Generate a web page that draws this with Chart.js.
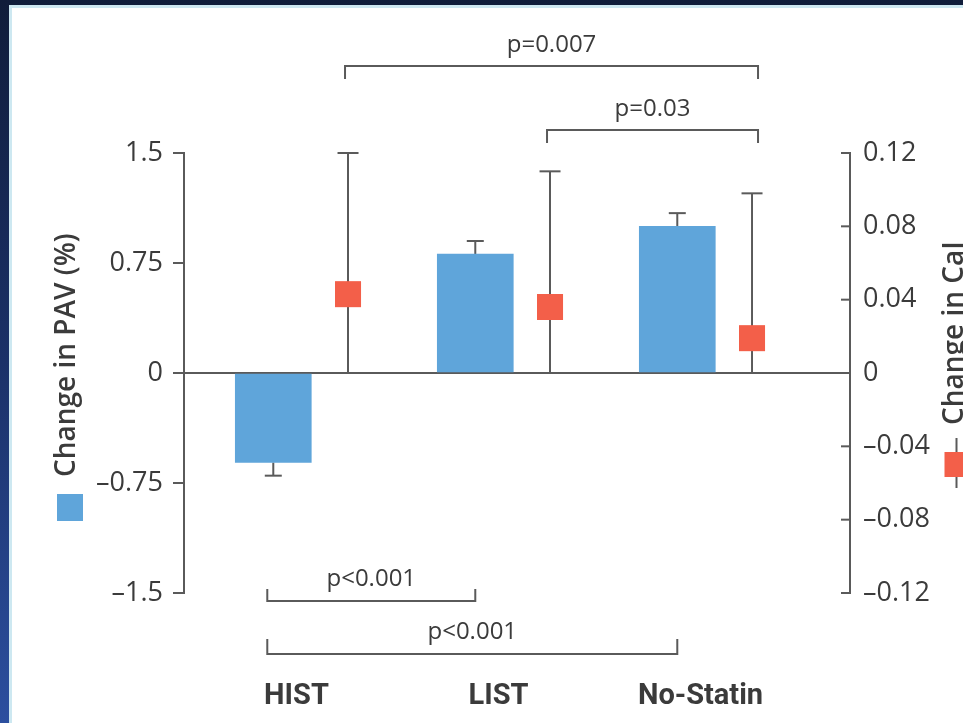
<!DOCTYPE html>
<html><head><meta charset="utf-8">
<script src="https://cdn.jsdelivr.net/npm/chart.js@4.4.1/dist/chart.umd.min.js"></script>
<style>
html,body{margin:0;padding:0;}
body{width:963px;height:723px;overflow:hidden;position:relative;background:linear-gradient(to bottom,#101d3a 0%,#1b3168 50%,#2c4f9f 100%);}
#panel{position:absolute;left:9px;top:5px;width:954px;height:718px;background:#fff;border-left:3px solid #cde8f1;border-top:3px solid #cde8f1;box-sizing:border-box;}
#c{position:absolute;left:0;top:0;}
</style></head>
<body><div id="panel"></div><canvas id="c" width="963" height="723"></canvas>
<script>
// ---- data ----
const categories = ['HIST', 'LIST', 'No-Statin'];
const pavValues = [-0.61, 0.81, 1.0];
const pavSE = [0.09, 0.09, 0.09];
const calValues = [0.043, 0.036, 0.019];
const calUpper = [0.12, 0.11, 0.098];
const pavTicks = [-1.5, -0.75, 0, 0.75, 1.5];
const pavTickLabels = ['\u20131.5', '\u20130.75', '0', '0.75', '1.5'];
const calTicks = [-0.12, -0.08, -0.04, 0, 0.04, 0.08, 0.12];
const calTickLabels = ['\u20130.12', '\u20130.08', '\u20130.04', '0', '0.04', '0.08', '0.12'];
const topBrackets = [{from: 0, to: 2, label: 'p=0.007'}, {from: 1, to: 2, label: 'p=0.03'}];
const bottomBrackets = [{from: 0, to: 1, label: 'p<0.001'}, {from: 0, to: 2, label: 'p<0.001'}];
const pavTitle = 'Change in PAV (%)';
const calTitle = 'Change in CaI';

// ---- styling ----
const BAR_OFF = -0.185, MK_OFF = 0.185, LABEL_OFF = -0.07;
const AXIS = '#5a5a5a', TEXT = '#3b3b3b', BLUE = '#5fa5da', RED = '#f35f49';
Chart.defaults.font.family = "'Open Sans', sans-serif";

const barData = pavValues.map((v, i) => ({x: i + BAR_OFF, y: v}));
const calData = calValues.map((v, i) => ({x: i + MK_OFF, y: v}));

function line(ctx, x1, y1, x2, y2) { ctx.beginPath(); ctx.moveTo(x1, y1); ctx.lineTo(x2, y2); ctx.stroke(); }

const annot = {
  id: 'annot',
  beforeDatasetsDraw(chart) {
    const {ctx, chartArea: ca, scales: {x, y, y2}} = chart;
    ctx.save();
    ctx.strokeStyle = AXIS; ctx.lineWidth = 2;
    const y0 = y.getPixelForValue(0);
    line(ctx, ca.left, y0, ca.right, y0);
    pavValues.forEach((v, i) => {
      const px = x.getPixelForValue(i + BAR_OFF);
      const e = v + Math.sign(v) * pavSE[i];
      const py1 = y.getPixelForValue(v), py2 = y.getPixelForValue(e);
      line(ctx, px, py1, px, py2);
      line(ctx, px - 8.5, py2, px + 8.5, py2);
    });
    calValues.forEach((v, i) => {
      const px = x.getPixelForValue(i + MK_OFF);
      const pb = y2.getPixelForValue(0), pt = y2.getPixelForValue(calUpper[i]);
      line(ctx, px, pb, px, pt);
      line(ctx, px - 10.5, pt, px + 10.5, pt);
    });
    ctx.restore();
  },
  afterDraw(chart) {
    const {ctx, chartArea: ca, scales: {x, y, y2}} = chart;
    ctx.save();
    ctx.strokeStyle = AXIS; ctx.lineWidth = 2;
    calTicks.forEach(v => { const py = y2.getPixelForValue(v); line(ctx, ca.right - 9, py, ca.right, py); });
    ctx.fillStyle = TEXT;
    ctx.textAlign = 'center'; ctx.textBaseline = 'alphabetic';
    ctx.font = "24px 'Open Sans', sans-serif";
    const topY = [ca.top - 87, ca.top - 23];
    topBrackets.forEach((b, k) => {
      const x1 = x.getPixelForValue(b.from + MK_OFF) - 3, x2 = x.getPixelForValue(b.to + MK_OFF) + 6;
      const by = topY[k];
      ctx.beginPath(); ctx.moveTo(x1, by + 13); ctx.lineTo(x1, by); ctx.lineTo(x2, by); ctx.lineTo(x2, by + 13); ctx.stroke();
      ctx.fillText(b.label, (x1 + x2) / 2, by - 14);
    });
    const botY = [ca.bottom + 8, ca.bottom + 61];
    const botTick = [12, 15];
    bottomBrackets.forEach((b, k) => {
      const x1 = x.getPixelForValue(b.from + BAR_OFF) - 6, x2 = x.getPixelForValue(b.to + BAR_OFF);
      const by = botY[k];
      ctx.beginPath(); ctx.moveTo(x1, by - botTick[k]); ctx.lineTo(x1, by); ctx.lineTo(x2, by); ctx.lineTo(x2, by - botTick[k]); ctx.stroke();
      ctx.fillText(b.label, (x1 + x2) / 2, by - 15);
    });
    ctx.font = "bold 29px Roboto, sans-serif";
    categories.forEach((c, i) => ctx.fillText(c, x.getPixelForValue(i + LABEL_OFF), 704));
    ctx.font = "600 28px 'Open Sans', sans-serif";
    ctx.textAlign = 'left';
    ctx.save(); ctx.translate(75, 477); ctx.rotate(-Math.PI / 2); ctx.fillText(pavTitle, 0, 0); ctx.restore();
    ctx.save(); ctx.translate(963, 425); ctx.rotate(-Math.PI / 2); ctx.fillText(calTitle, 0, 0); ctx.restore();
    ctx.fillStyle = BLUE; ctx.fillRect(57, 494, 26, 27);
    line(ctx, 956.5, 438, 956.5, 488);
    ctx.fillStyle = RED; ctx.fillRect(944.5, 452, 25, 25);
    ctx.restore();
  }
};

new Chart(document.getElementById('c'), {
  type: 'bar',
  data: {datasets: [
    {type: 'scatter', data: calData, backgroundColor: RED, borderWidth: 0, pointStyle: 'rect', pointRadius: 18.4, yAxisID: 'y2', xAxisID: 'x', order: 1},
    {type: 'bar', data: barData, backgroundColor: BLUE, barThickness: 76, yAxisID: 'y', xAxisID: 'x', order: 2}
  ]},
  options: {
    responsive: false, animation: false, events: [],
    layout: {padding: {top: 153, bottom: 130, left: 0, right: 0}},
    plugins: {legend: {display: false}, tooltip: {enabled: false}},
    scales: {
      x: {type: 'linear', min: -0.627, max: 2.67, offset: false, display: false},
      y: {
        position: 'left', min: -1.5, max: 1.5,
        afterBuildTicks: s => { s.ticks = pavTicks.map(v => ({value: v})); },
        afterFit: s => { s.width = 184; },
        ticks: {font: {size: 27}, color: TEXT, padding: 10, callback: (v, i) => pavTickLabels[i]},
        grid: {drawOnChartArea: false, drawTicks: true, tickLength: 11, color: AXIS, lineWidth: 2},
        border: {display: true, color: AXIS, width: 2}
      },
      y2: {
        position: 'right', min: -0.12, max: 0.12,
        afterBuildTicks: s => { s.ticks = calTicks.map(v => ({value: v})); },
        afterFit: s => { s.width = 113; },
        ticks: {font: {size: 27}, color: TEXT, padding: 13, callback: (v, i) => calTickLabels[i]},
        grid: {display: true, drawOnChartArea: false, drawTicks: false, color: AXIS, lineWidth: 2},
        border: {display: true, color: AXIS, width: 2}
      }
    }
  },
  plugins: [annot]
});
</script>
</body></html>
